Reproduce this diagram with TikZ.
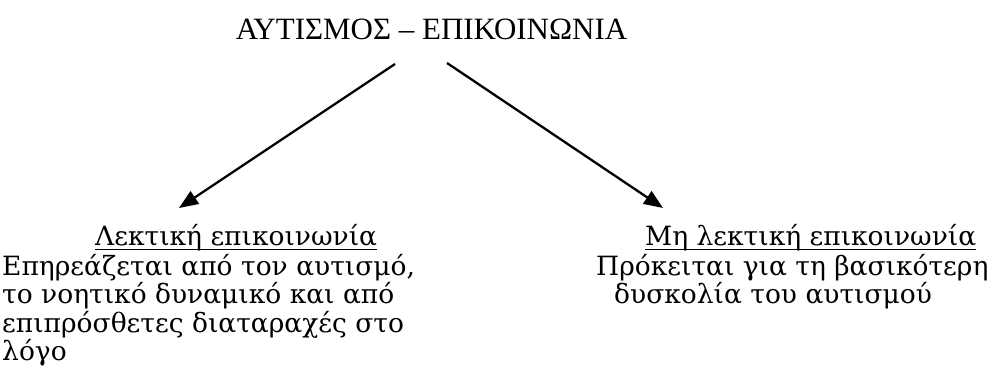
\documentclass[tikz,border=0pt]{standalone}
\usepackage{fontspec}
\setmainfont{DejaVu Serif}
\newfontfamily\titlefont{Liberation Serif}
\usetikzlibrary{arrows.meta,positioning}
\newcommand{\bodyfont}{\fontsize{26.5}{28.5}\selectfont}
\tikzset{
  >={Triangle[length=19pt,width=15pt]},
  arr/.style  ={->,line width=2.3pt},
  head/.style ={inner sep=0pt,anchor=base west,font=\bodyfont},
  body/.style ={inner sep=0pt,anchor=base west,align=left,font=\bodyfont},
  uline/.style={line width=1.8pt},
}

\begin{document}
\begin{tikzpicture}[x=1pt,y=-1pt]
\useasboundingbox (0,0) rectangle (995,387);
% title
\node[inner sep=0pt,anchor=base,font=\titlefont\fontsize{31}{36}\selectfont] (title) at (431.5,40)
 {ΑΥΤΙΣΜΟΣ – ΕΠΙΚΟΙΝΩΝΙΑ};
% arrow ends
\coordinate (lfrom) at (395,64);
\coordinate (rfrom) at (447,63);
\coordinate (lto) at (179,208);
\coordinate (rto) at (663,208);
\draw[arr] (lfrom) -- (lto);
\draw[arr] (rfrom) -- (rto);
% left branch (base = last line)
\node[head] (lhead) at (95,246) {Λεκτική επικοινωνία};
\draw[uline] ([yshift=-3.5pt]lhead.base west) -- ([yshift=-3.5pt]lhead.base east);
\node[body] (lbody) at (2,360.5)
 {Επηρεάζεται από τον αυτισμό,\\
  το νοητικό δυναμικό και από\\
  επιπρόσθετες διαταραχές στο\\
  λόγο};
% right branch
\node[head] (rhead) at (645,246) {Μη λεκτική επικοινωνία};
\draw[uline] ([yshift=-3.5pt]rhead.base west) -- ([yshift=-3.5pt]rhead.base east);
\node[body] (rbody) at (596,303.5)
 {Πρόκειται για τη βασικότερη\\
  \hspace*{18pt}δυσκολία του αυτισμού};
\end{tikzpicture}
\end{document}
